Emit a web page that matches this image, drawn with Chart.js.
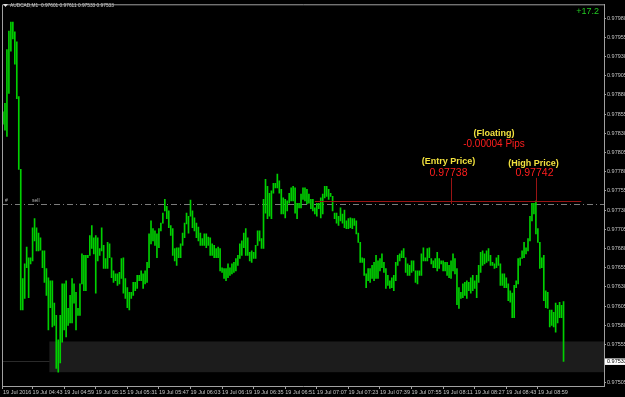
<!DOCTYPE html>
<html>
<head>
<meta charset="utf-8">
<script src="https://cdn.jsdelivr.net/npm/chart.js@4.4.1/dist/chart.umd.min.js"></script>
<style>
  html, body { margin: 0; padding: 0; background: #000; }
  canvas { display: block; background: #000; }
</style>
</head>
<body>
<canvas id="grafico" width="625" height="397"></canvas>
<script>
// AUDCAD M1, 19 Jul 2016, high/low of each bar
const highs = [
  0.97858,0.97869,0.97939,0.97963,0.97975,0.97975,0.97962,0.97949,0.97878,0.97783,
  0.97641,0.97660,0.97682,0.97668,0.97668,0.97707,0.97719,0.97707,0.97700,0.97694,
  0.97677,0.97677,0.97654,0.97642,0.97638,0.97638,0.97609,0.97593,0.97561,0.97593,
  0.97634,0.97634,0.97638,0.97602,0.97619,0.97641,0.97634,0.97623,0.97602,0.97634,
  0.97673,0.97671,0.97671,0.97671,0.97697,0.97710,0.97694,0.97697,0.97694,0.97680,
  0.97707,0.97684,0.97667,0.97688,0.97686,0.97668,0.97651,0.97647,0.97647,0.97649,
  0.97667,0.97668,0.97641,0.97629,0.97623,0.97623,0.97636,0.97636,0.97645,0.97645,
  0.97651,0.97647,0.97651,0.97662,0.97699,0.97716,0.97706,0.97703,0.97699,0.97706,
  0.97713,0.97726,0.97744,0.97735,0.97729,0.97710,0.97706,0.97680,0.97681,0.97681,
  0.97686,0.97700,0.97713,0.97726,0.97722,0.97743,0.97729,0.97720,0.97713,0.97708,
  0.97700,0.97693,0.97699,0.97699,0.97695,0.97694,0.97686,0.97684,0.97680,0.97682,
  0.97680,0.97655,0.97654,0.97654,0.97660,0.97655,0.97660,0.97662,0.97667,0.97671,
  0.97686,0.97690,0.97700,0.97706,0.97694,0.97675,0.97677,0.97675,0.97684,0.97703,
  0.97703,0.97693,0.97744,0.97770,0.97761,0.97752,0.97755,0.97765,0.97765,0.97777,
  0.97768,0.97757,0.97746,0.97744,0.97742,0.97752,0.97759,0.97761,0.97759,0.97739,
  0.97739,0.97751,0.97759,0.97759,0.97757,0.97751,0.97744,0.97744,0.97733,0.97739,
  0.97739,0.97746,0.97751,0.97761,0.97761,0.97757,0.97752,0.97748,0.97726,0.97726,
  0.97722,0.97733,0.97725,0.97730,0.97716,0.97719,0.97720,0.97719,0.97719,0.97716,
  0.97700,0.97688,0.97668,0.97667,0.97647,0.97654,0.97654,0.97658,0.97662,0.97671,
  0.97664,0.97667,0.97673,0.97662,0.97654,0.97645,0.97638,0.97642,0.97645,0.97662,
  0.97671,0.97673,0.97677,0.97680,0.97668,0.97660,0.97658,0.97664,0.97664,0.97651,
  0.97651,0.97651,0.97673,0.97681,0.97668,0.97680,0.97681,0.97667,0.97664,0.97667,
  0.97675,0.97667,0.97664,0.97664,0.97662,0.97662,0.97658,0.97664,0.97673,0.97667,
  0.97654,0.97629,0.97623,0.97634,0.97636,0.97638,0.97636,0.97642,0.97645,0.97638,
  0.97645,0.97658,0.97675,0.97677,0.97673,0.97677,0.97680,0.97671,0.97662,0.97660,
  0.97668,0.97671,0.97660,0.97647,0.97647,0.97642,0.97634,0.97625,0.97622,0.97632,
  0.97638,0.97667,0.97668,0.97677,0.97688,0.97681,0.97693,0.97722,0.97739,0.97739,
  0.97742,0.97706,0.97688,0.97668,0.97671,0.97625,0.97623,0.97600,0.97600,0.97597,
  0.97609,0.97606,0.97610,0.97606,0.97611
];
const lows = [
  0.97842,0.97834,0.97826,0.97882,0.97937,0.97953,0.97920,0.97875,0.97783,0.97600,
  0.97600,0.97615,0.97655,0.97616,0.97660,0.97664,0.97690,0.97677,0.97677,0.97678,
  0.97655,0.97636,0.97619,0.97574,0.97603,0.97578,0.97580,0.97524,0.97519,0.97531,
  0.97558,0.97574,0.97565,0.97580,0.97583,0.97583,0.97609,0.97574,0.97593,0.97593,
  0.97634,0.97625,0.97625,0.97668,0.97671,0.97680,0.97673,0.97622,0.97664,0.97671,
  0.97677,0.97654,0.97654,0.97654,0.97668,0.97642,0.97636,0.97638,0.97632,0.97634,
  0.97641,0.97622,0.97615,0.97603,0.97600,0.97615,0.97619,0.97625,0.97628,0.97638,
  0.97638,0.97628,0.97634,0.97636,0.97655,0.97686,0.97690,0.97684,0.97668,0.97681,
  0.97703,0.97713,0.97729,0.97719,0.97707,0.97697,0.97671,0.97664,0.97658,0.97668,
  0.97668,0.97684,0.97694,0.97712,0.97700,0.97722,0.97707,0.97703,0.97694,0.97690,
  0.97684,0.97684,0.97684,0.97681,0.97684,0.97671,0.97671,0.97668,0.97668,0.97668,
  0.97651,0.97649,0.97641,0.97638,0.97642,0.97645,0.97647,0.97649,0.97651,0.97658,
  0.97667,0.97671,0.97681,0.97671,0.97671,0.97664,0.97662,0.97667,0.97667,0.97684,
  0.97690,0.97680,0.97680,0.97726,0.97719,0.97722,0.97719,0.97752,0.97759,0.97759,
  0.97752,0.97725,0.97725,0.97720,0.97729,0.97739,0.97742,0.97742,0.97726,0.97719,
  0.97733,0.97733,0.97744,0.97742,0.97738,0.97739,0.97732,0.97729,0.97725,0.97722,
  0.97732,0.97720,0.97725,0.97746,0.97748,0.97744,0.97748,0.97729,0.97719,0.97713,
  0.97710,0.97716,0.97713,0.97707,0.97706,0.97706,0.97707,0.97706,0.97710,0.97699,
  0.97688,0.97662,0.97662,0.97645,0.97629,0.97638,0.97636,0.97641,0.97638,0.97641,
  0.97641,0.97651,0.97655,0.97649,0.97628,0.97632,0.97628,0.97629,0.97625,0.97638,
  0.97658,0.97664,0.97668,0.97668,0.97649,0.97645,0.97645,0.97649,0.97651,0.97636,
  0.97634,0.97645,0.97645,0.97664,0.97664,0.97664,0.97668,0.97660,0.97655,0.97655,
  0.97651,0.97654,0.97660,0.97651,0.97651,0.97645,0.97642,0.97641,0.97651,0.97647,
  0.97607,0.97602,0.97615,0.97616,0.97619,0.97615,0.97625,0.97622,0.97625,0.97628,
  0.97616,0.97636,0.97649,0.97658,0.97660,0.97662,0.97664,0.97658,0.97658,0.97654,
  0.97655,0.97658,0.97632,0.97632,0.97629,0.97629,0.97612,0.97610,0.97590,0.97590,
  0.97629,0.97634,0.97658,0.97667,0.97668,0.97673,0.97677,0.97690,0.97716,0.97725,
  0.97699,0.97688,0.97654,0.97655,0.97612,0.97603,0.97602,0.97578,0.97580,0.97578,
  0.97571,0.97583,0.97590,0.97590,0.97533
];
const lastOpen = 0.97601;

// time axis: one slot per minute from 04:28, chart shifted a bit to the right
const firstMinute = 4 * 60 + 28;
const totalSlots = 305;
const tickTimes  = ['04:28','04:43','04:59','05:15','05:31','05:47','06:03','06:19','06:35',
                    '06:51','07:07','07:23','07:39','07:55','08:11','08:27','08:43','08:59'];
const tickLabels = ['19 Jul 2016','19 Jul 04:43','19 Jul 04:59','19 Jul 05:15','19 Jul 05:31',
                    '19 Jul 05:47','19 Jul 06:03','19 Jul 06:19','19 Jul 06:35','19 Jul 06:51',
                    '19 Jul 07:07','19 Jul 07:23','19 Jul 07:39','19 Jul 07:55','19 Jul 08:11',
                    '19 Jul 08:27','19 Jul 08:43','19 Jul 08:59'];
const priceTicks = [0.97505,0.97555,0.97580,0.97605,0.97630,0.97655,0.97680,0.97705,0.97730,
                    0.97755,0.97780,0.97805,0.97830,0.97855,0.97880,0.97905,0.97930,0.97955,0.97980];

// order info
const entryPrice = 0.97738;
const highPrice = 0.97742;
const entryBar = 227;
const highBar = 270;
const lineFromBar = 158;
const lineToBar = 293;
const markerTop = 0.97772;
const profit = '+17.2';
const zoneTop = 0.97559;
const zoneBottom = 0.97519;
const zoneFromBar = 24;

const barTimes = [];
for (var i = 0; i < totalSlots; i++) {
  var m = firstMinute + i;
  barTimes.push(String(Math.floor(m / 60)).padStart(2, '0') + ':' + String(m % 60).padStart(2, '0'));
}
const barData = highs.map((h, i) => [lows[i], h]);
const bid = lows[lows.length - 1];

const FONT = 'Liberation Sans, Arial, sans-serif';
const AXIS = '#a0a0a0';

const overlays = {
  id: 'overlays',
  beforeDatasetsDraw(chart) {
    const { ctx, chartArea: a, scales: { x, y } } = chart;
    ctx.save();
    // bid line
    var yb = Math.round(y.getPixelForValue(bid)) + 0.5;
    ctx.strokeStyle = '#2a2a2a';
    ctx.lineWidth = 1;
    ctx.beginPath(); ctx.moveTo(a.left, yb); ctx.lineTo(a.right, yb); ctx.stroke();
    // grey zone
    var zx = x.getPixelForValue(zoneFromBar) - 1;
    var zt = y.getPixelForValue(zoneTop), zb = y.getPixelForValue(zoneBottom);
    ctx.fillStyle = '#1c1c1c';
    ctx.fillRect(zx, zt, a.right - zx, zb - zt);
    // entry level
    var ye = Math.round(y.getPixelForValue(entryPrice)) + 0.5;
    ctx.strokeStyle = '#7c7c7c';
    ctx.setLineDash([6, 3, 1, 3]);
    ctx.beginPath(); ctx.moveTo(a.left, ye); ctx.lineTo(a.right, ye); ctx.stroke();
    ctx.setLineDash([]);
    ctx.restore();
  },
  afterDatasetsDraw(chart) {
    const { ctx, scales: { x, y } } = chart;
    ctx.save();
    var ye = y.getPixelForValue(entryPrice);
    var yh = Math.round(y.getPixelForValue(highPrice)) + 0.5;
    var xe = Math.round(x.getPixelForValue(entryBar)) + 0.5;
    var xh = Math.round(x.getPixelForValue(highBar)) + 0.5;
    var yt = y.getPixelForValue(markerTop);
    ctx.strokeStyle = '#9a1414';
    ctx.lineWidth = 1;
    ctx.beginPath();
    ctx.moveTo(x.getPixelForValue(lineFromBar), yh); ctx.lineTo(x.getPixelForValue(lineToBar), yh);
    ctx.moveTo(xe, yt); ctx.lineTo(xe, ye);
    ctx.moveTo(xh, yt); ctx.lineTo(xh, yh);
    ctx.stroke();

    ctx.textAlign = 'center';
    ctx.textBaseline = 'middle';
    var yellow = '#f2e23e', red = '#ff1e1e';
    ctx.font = 'bold 9px ' + FONT;
    ctx.fillStyle = yellow;
    ctx.fillText('(Floating)', (xe + xh) / 2, ye - 70);
    ctx.fillText('(Entry Price)', xe - 3, ye - 42);
    ctx.fillText('(High Price)', xh - 3, yh - 38);
    ctx.fillStyle = red;
    ctx.font = '10px ' + FONT;
    ctx.fillText((entryPrice - highPrice).toFixed(5) + ' Pips', (xe + xh) / 2, ye - 60);
    ctx.font = '10.5px ' + FONT;
    ctx.fillText(entryPrice.toFixed(5), xe - 3, ye - 31);
    ctx.fillText(highPrice.toFixed(5), xh - 2, yh - 28);

    // order marks on the entry line
    ctx.font = '5px ' + FONT;
    ctx.fillStyle = '#b4b4b4';
    ctx.textAlign = 'left';
    ctx.textBaseline = 'bottom';
    ctx.fillText('#', 5, ye - 0.5);
    ctx.fillText('sell', 32, ye - 0.5);
    ctx.restore();
  },
  afterDraw(chart) {
    const { ctx, chartArea: a, scales: { y } } = chart;
    ctx.save();
    ctx.strokeStyle = AXIS;
    ctx.lineWidth = 1;
    ctx.beginPath();
    ctx.moveTo(a.left + 0.5, a.bottom); ctx.lineTo(a.left + 0.5, a.top + 0.5); ctx.lineTo(a.right, a.top + 0.5);
    ctx.stroke();

    // current price box on the price axis
    var yb = y.getPixelForValue(bid);
    ctx.fillStyle = '#ffffff';
    ctx.fillRect(a.right + 1, yb - 3, 21, 6.5);
    ctx.fillStyle = '#000000';
    ctx.font = '5.5px ' + FONT;
    ctx.textBaseline = 'middle';
    ctx.fillText(bid.toFixed(5), a.right + 3, yb + 0.3);

    // header
    ctx.fillStyle = '#e0e0e0';
    ctx.beginPath(); ctx.moveTo(3, 4); ctx.lineTo(8, 4); ctx.lineTo(5.5, 7); ctx.closePath(); ctx.fill();
    ctx.fillStyle = '#cfcfcf';
    ctx.font = '4.8px ' + FONT;
    ctx.fillText('AUDCAD,M1  ' + [lastOpen, highs[highs.length - 1], bid, bid].map(v => v.toFixed(5)).join(' '), 10, 5.5);

    ctx.fillStyle = '#22c822';
    ctx.font = '9px ' + FONT;
    ctx.textAlign = 'right';
    ctx.fillText(profit, 599, 11.5);
    ctx.restore();
  }
};

chart = new Chart(document.getElementById('grafico').getContext('2d'), {
  type: 'bar',
  data: {
    labels: barTimes,
    datasets: [{
      data: barData,
      backgroundColor: '#00d000',
      borderWidth: 0,
      barThickness: 1
    }]
  },
  options: {
    responsive: false,
    devicePixelRatio: 1,
    animation: false,
    layout: { padding: { top: 2, left: 2, right: 0, bottom: 0 } },
    plugins: { legend: { display: false }, tooltip: { enabled: false } },
    scales: {
      x: {
        offset: true,
        grid: { drawOnChartArea: false, offset: false, tickLength: 3, color: AXIS, tickColor: AXIS },
        border: { color: AXIS },
        ticks: {
          autoSkip: false, maxRotation: 0, minRotation: 0, align: 'start', padding: 0,
          color: '#c4c4c4', font: { size: 5.5, family: FONT },
          callback: (v) => tickLabels[tickTimes.indexOf(barTimes[v])]
        },
        afterBuildTicks: (scale) => {
          scale.ticks = scale.ticks.filter(t => tickTimes.includes(barTimes[t.value]));
        },
        afterFit: (scale) => { scale.height = 11; }
      },
      y: {
        position: 'right',
        min: 0.97501,
        max: 0.97998,
        grid: { drawOnChartArea: false, tickLength: 2, color: AXIS, tickColor: AXIS },
        border: { color: AXIS },
        ticks: {
          padding: 1, color: '#c4c4c4', font: { size: 5.5, family: FONT },
          callback: (v) => v.toFixed(5)
        },
        afterBuildTicks: (scale) => { scale.ticks = priceTicks.map(v => ({ value: v })); },
        afterFit: (scale) => { scale.width = 21; }
      }
    }
  },
  plugins: [overlays]
});
</script>
</body>
</html>
